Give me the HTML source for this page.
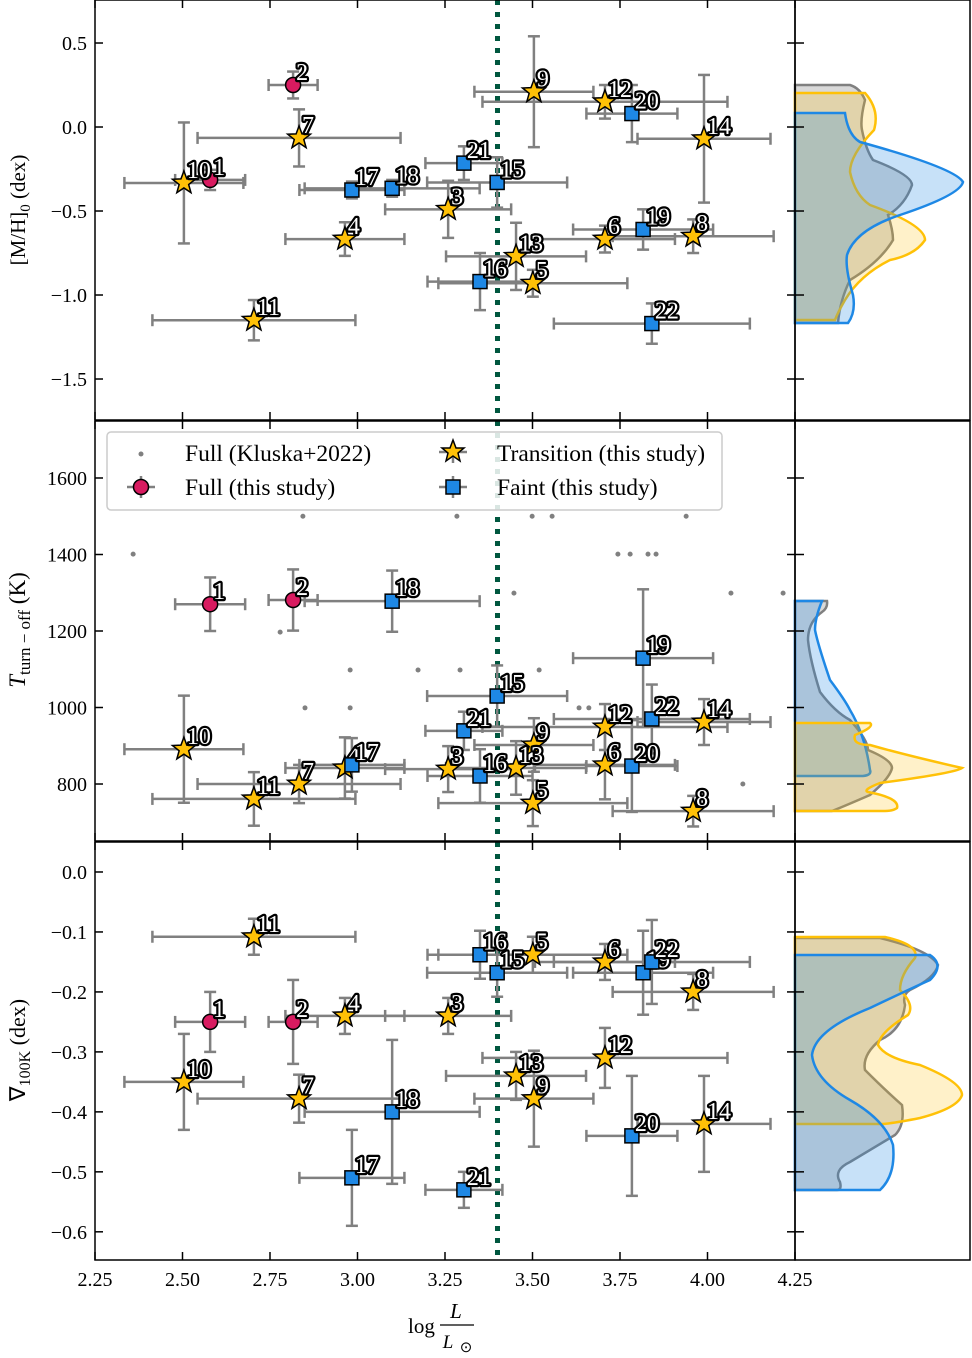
<!DOCTYPE html>
<html><head><meta charset="utf-8"><style>
body{margin:0;background:#fff}
svg{display:block;font-family:"Liberation Serif",serif}
</style></head><body>
<svg id="fig" width="972" height="1358" viewBox="0 0 972 1358" xmlns="http://www.w3.org/2000/svg">
<rect x="0" y="0" width="972" height="1358" fill="#fff"/>
<g id="side"></g>
<g id="main"></g>
</svg>
<script>
const ids=[1,2,3,4,5,6,7,8,9,10,11,12,13,14,15,16,17,18,19,20,21,22];
const types=['full','full','trans','trans','trans','trans','trans','trans','trans','trans','trans','trans','trans','trans','faint','faint','faint','faint','faint','faint','faint','faint'];
const logL=[2.579,2.816,3.259,2.964,3.501,3.707,2.833,3.959,3.504,2.504,2.704,3.707,3.453,3.99,3.399,3.35,2.984,3.099,3.816,3.784,3.304,3.841];
const logLerr=[0.1,0.07,0.18,0.17,0.27,0.2,0.29,0.23,0.17,0.17,0.29,0.35,0.2,0.19,0.2,0.15,0.15,0.25,0.2,0.13,0.11,0.28];
const mh=[-0.315,0.25,-0.49,-0.667,-0.93,-0.667,-0.065,-0.65,0.21,-0.333,-1.15,0.15,-0.77,-0.07,-0.33,-0.92,-0.375,-0.365,-0.61,0.08,-0.215,-1.17];
const mhErr=[0.06,0.08,0.17,0.1,0.08,0.08,0.17,0.1,0.33,0.36,0.12,0.1,0.2,0.38,0.15,0.17,0.05,0.05,0.12,0.17,0.1,0.12];
const teff=[1270,1281,839,842,750,850,800,729,902,891,761,949,842,962,1030,821,850,1278,1129,847,939,970];
const teffErr=[70,80,60,80,60,90,50,40,70,140,70,60,70,60,80,70,70,80,180,120,50,90];
const grad=[-0.25,-0.25,-0.24,-0.24,-0.138,-0.15,-0.378,-0.2,-0.378,-0.35,-0.108,-0.31,-0.34,-0.42,-0.168,-0.138,-0.51,-0.4,-0.168,-0.44,-0.53,-0.15];
const gradErr=[0.05,0.07,0.03,0.03,0.03,0.03,0.04,0.03,0.08,0.08,0.03,0.05,0.04,0.08,0.04,0.04,0.08,0.12,0.07,0.1,0.03,0.07];
const klX=[2.359,2.844,3.284,3.499,3.556,3.939,2.779,2.85,2.979,2.979,3.173,3.293,3.519,3.447,3.633,3.661,3.744,3.779,3.83,3.853,4.067,4.216,4.101];
const klT=[1401,1500,1500,1500,1500,1500,1197,999,1098,999,1098,1098,1098,1299,999,999,1401,1401,1401,1401,1299,1299,800];
const xTicks=[2.25,2.5,2.75,3.0,3.25,3.5,3.75,4.0,4.25];
const xTickLabels=['2.25','2.50','2.75','3.00','3.25','3.50','3.75','4.00','4.25'];
const mhTicks=[0.5,0.0,-0.5,-1.0,-1.5];
const mhTickLabels=['0.5','0.0','\u22120.5','\u22121.0','\u22121.5'];
const tTicks=[800,1000,1200,1400,1600];
const tTickLabels=['800','1000','1200','1400','1600'];
const gTicks=[0.0,-0.1,-0.2,-0.3,-0.4,-0.5,-0.6];
const gTickLabels=['0.0','\u22120.1','\u22120.2','\u22120.3','\u22120.4','\u22120.5','\u22120.6'];

const NS='http://www.w3.org/2000/svg';
const main=document.getElementById('main');
const side=document.getElementById('side');
function mk(tag,attrs,parent){const e=document.createElementNS(NS,tag);for(const k in attrs)e.setAttribute(k,attrs[k]);(parent||main).appendChild(e);return e;}
const X0=95,X1=795;
const xs=v=>X0+(v-2.25)/2*(X1-X0);
const panels=[
 {top:0,bot:420,ymin:-1.744,ymax:0.756,vals:mh,errs:mhErr,ticks:mhTicks,labels:mhTickLabels,name:'metallicity'},
 {top:421,bot:841,ymin:651,ymax:1749,vals:teff,errs:teffErr,ticks:tTicks,labels:tTickLabels,name:'turnoff-temperature'},
 {top:842,bot:1260,ymin:-0.647,ymax:0.05,vals:grad,errs:gradErr,ticks:gTicks,labels:gTickLabels,name:'gradient'}
];
panels.forEach(p=>{p.ys=v=>p.bot-(v-p.ymin)/(p.ymax-p.ymin)*(p.bot-p.top);});
const col={full:'#d81b60',trans:'#ffc107',faint:'#1e88e5'};
function starPath(cx,cy,R,r){let d='';for(let i=0;i<10;i++){const a=-Math.PI/2+i*Math.PI/5;const rr=i%2?r:R;d+=(i?'L':'M')+(cx+rr*Math.cos(a)).toFixed(2)+','+(cy+rr*Math.sin(a)).toFixed(2);}return d+'Z';}
function marker(t,cx,cy,g){
 if(t==='full')return mk('circle',{cx:cx,cy:cy,r:7.5,fill:col.full,stroke:'#000','stroke-width':1.5},g);
 if(t==='trans')return mk('path',{d:starPath(cx,cy,12,5),fill:col.trans,stroke:'#000','stroke-width':1.5,'stroke-linejoin':'miter'},g);
 return mk('rect',{x:cx-7,y:cy-7,width:14,height:14,fill:col.faint,stroke:'#000','stroke-width':1.5},g);
}
function errbar(x1,y1,x2,y2,horiz,g){
 mk('line',{x1:x1,y1:y1,x2:x2,y2:y2,stroke:'#808080','stroke-width':2.5},g);
 if(horiz){[x1,x2].forEach(x=>mk('line',{x1:x,y1:y1-6,x2:x,y2:y1+6,stroke:'#808080','stroke-width':2.5},g));}
 else{[y1,y2].forEach(y=>mk('line',{x1:x1-6,y1:y,x2:x1+6,y2:y,stroke:'#808080','stroke-width':2.5},g));}
}

const kdeShapes=[
 [['#808080','M795,85 L850,85 Q860,88 865,100 Q860,120 862,130 Q866,150 873,160 Q912,175 912,185 Q905,205 888,215 Q893,230 893,240 Q880,262 850,280 Q840,300 838,323 L795,323 Z',0.3],
  ['#ffc107','M795,93 L865,93 Q880,110 874,130 Q850,155 850,172 Q855,195 870,205 Q925,225 925,240 Q915,255 890,260 Q860,275 845,300 Q838,312 835,320 L795,320 Z',0.22],
  ['#1e88e5','M795,113 L845,113 Q848,135 860,142 Q955,168 963,182 Q960,195 900,215 Q855,230 847,255 Q845,268 853,295 Q856,312 848,323 L795,323 Z',0.25]],
 [['#808080','M795,601 L827,601 Q828,608 822,612 Q808,622 808,640 Q810,660 820,692 Q835,712 850,720 Q868,740 868,750 Q892,760 892,768 Q890,778 870,795 Q840,808 832,811 L795,811 Z',0.3],
  ['#1e88e5','M795,601 L822,601 Q815,618 815,630 Q818,645 830,680 Q845,700 850,710 Q865,735 870,770 Q872,775 863,776 L795,776 Z',0.25],
  ['#ffc107','M795,723 L870,723 Q875,727 855,735 Q852,745 870,745 Q905,755 962,768 Q955,773 880,783 Q862,790 868,792 Q900,798 897,808 Q893,811 885,811 L795,811 Z',0.22]],
 [['#808080','M795,938 L880,938 Q930,950 938,965 Q935,978 910,990 Q902,995 905,1005 Q902,1030 880,1040 Q862,1055 865,1070 Q885,1090 902,1105 Q905,1125 895,1135 Q870,1150 850,1162 Q833,1170 840,1182 Q842,1190 837,1190 L795,1190 Z',0.3],
  ['#ffc107','M795,937 L885,937 Q920,945 915,958 Q900,975 900,990 Q915,1005 908,1015 Q880,1032 878,1045 Q885,1058 920,1065 Q962,1082 962,1095 Q958,1108 920,1118 Q890,1124 880,1124 L795,1124 Z',0.22],
  ['#1e88e5','M795,955 L930,955 Q945,965 930,980 Q912,988 870,1008 Q815,1030 812,1055 Q815,1080 850,1100 Q885,1120 893,1145 Q896,1175 880,1190 L795,1190 Z',0.25]]
];
kdeShapes.forEach((arr,pi)=>{
 arr.forEach(([c,d,a],k)=>{
  const e=mk('path',{d:d,fill:c,'fill-opacity':a,stroke:c,'stroke-width':2.5},side);
  
  
 });
});

panels.forEach((p,pi)=>{
 const g=mk('g',{});
 
 
 if(pi===1){klX.forEach((v,i)=>{const d=mk('circle',{cx:xs(v),cy:p.ys(klT[i]),r:2.5,fill:'#808080'},g);});}
 const th=mk('line',{x1:xs(3.4),y1:p.top,x2:xs(3.4),y2:p.bot,stroke:'#00573f','stroke-width':5,'stroke-dasharray':'5,7'},g);
 
 
 ids.forEach((id,i)=>{
  const cx=xs(logL[i]),cy=p.ys(p.vals[i]);
  errbar(xs(logL[i]-logLerr[i]),cy,xs(logL[i]+logLerr[i]),cy,true,g);
  errbar(cx,p.ys(p.vals[i]+p.errs[i]),cx,p.ys(p.vals[i]-p.errs[i]),false,g);
 });
 ids.forEach((id,i)=>{
  const cx=xs(logL[i]),cy=p.ys(p.vals[i]);
  const m=marker(types[i],cx,cy,g);
  
  
  const t=mk('text',{x:cx+3,y:cy-5,'font-size':24,fill:'#fff',stroke:'#000','stroke-width':4.5,'paint-order':'stroke','stroke-linejoin':'round'},g);
  t.textContent=id;
  
  
 });
 mk('rect',{x:X0,y:p.top,width:X1-X0,height:p.bot-p.top,fill:'none',stroke:'#000','stroke-width':1.5},g);
 mk('rect',{x:X1,y:p.top,width:175,height:p.bot-p.top,fill:'none',stroke:'#000','stroke-width':1.5},g);
 p.ticks.forEach((v,i)=>{
  const y=p.ys(v);
  mk('line',{x1:X0,y1:y,x2:X0+8,y2:y,stroke:'#000','stroke-width':1.5},g);
  mk('line',{x1:X1,y1:y,x2:X1-8,y2:y,stroke:'#000','stroke-width':1.5},g);
  mk('line',{x1:X1,y1:y,x2:X1+9,y2:y,stroke:'#000','stroke-width':1.5},g);
  const t=mk('text',{x:X0-8,y:y+7,'font-size':20,'text-anchor':'end'},g);
  t.textContent=p.labels[i];
  
  
 });
 xTicks.forEach(v=>{
  mk('line',{x1:xs(v),y1:p.bot,x2:xs(v),y2:p.bot-8,stroke:'#000','stroke-width':1.5},g);
  mk('line',{x1:xs(v),y1:p.top,x2:xs(v),y2:p.top+8,stroke:'#000','stroke-width':1.5},g);
 });
});
xTicks.forEach((v,i)=>{
 const t=mk('text',{x:xs(v),y:1286,'font-size':20,'text-anchor':'middle'});
 t.textContent=xTickLabels[i];
 
 
});
</script>
<svg style="position:absolute;left:0;top:0" width="972" height="1358" xmlns="http://www.w3.org/2000/svg" font-family="Liberation Serif, serif">
<g><text transform="translate(25,210) rotate(-90)" font-size="21" text-anchor="middle">[M/H]<tspan font-size="15" dy="5">0</tspan><tspan dy="-5"> (dex)</tspan></text></g>
<g><text transform="translate(25,630) rotate(-90)" font-size="23" text-anchor="middle"><tspan font-style="italic">T</tspan><tspan font-size="17" dy="5">turn − off</tspan><tspan dy="-5"> (K)</tspan></text></g>
<g><text transform="translate(25,1050) rotate(-90)" font-size="22" text-anchor="middle">∇<tspan font-size="16" dy="5">100K</tspan><tspan dy="-5"> (dex)</tspan></text></g>
<g>
<text x="408" y="1333" font-size="21">log</text>
<text x="456" y="1318" font-size="21" font-style="italic" text-anchor="middle">L</text>
<line x1="440" y1="1325" x2="474" y2="1325" stroke="#000" stroke-width="1.2"/>
<text x="448" y="1348" font-size="19" font-style="italic" text-anchor="middle">L</text>
<text x="466" y="1352" font-size="15" text-anchor="middle">⊙</text>
</g>
<g>
<rect x="107" y="432" width="615" height="78" rx="4" fill="#fff" fill-opacity="0.85" stroke="#ccc" stroke-width="1.5"/>
<circle cx="141" cy="454" r="2.5" fill="#808080"/>
<text x="185" y="461" font-size="23.5">Full (Kluska+2022)</text>
<line x1="127" y1="487" x2="155" y2="487" stroke="#808080" stroke-width="2.5"/>
<line x1="141" y1="476" x2="141" y2="498" stroke="#808080" stroke-width="2.5"/>
<circle cx="141" cy="487" r="7.5" fill="#d81b60" stroke="#000" stroke-width="1.5"/>
<text x="185" y="495" font-size="23.5">Full (this study)</text>
<line x1="439" y1="452" x2="467" y2="452" stroke="#808080" stroke-width="2.5"/>
<line x1="453" y1="441" x2="453" y2="463" stroke="#808080" stroke-width="2.5"/>
<path d="M453,440 L456,448 L464,448 L458,453 L460,461 L453,456 L446,461 L448,453 L442,448 L450,448 Z" fill="#ffc107" stroke="#000" stroke-width="1.5"/>
<text x="497" y="461" font-size="23.5">Transition (this study)</text>
<line x1="439" y1="487" x2="467" y2="487" stroke="#808080" stroke-width="2.5"/>
<line x1="453" y1="476" x2="453" y2="498" stroke="#808080" stroke-width="2.5"/>
<rect x="446" y="480" width="14" height="14" fill="#1e88e5" stroke="#000" stroke-width="1.5"/>
<text x="497" y="495" font-size="23.5">Faint (this study)</text>
</g>
</svg>
</body></html>
